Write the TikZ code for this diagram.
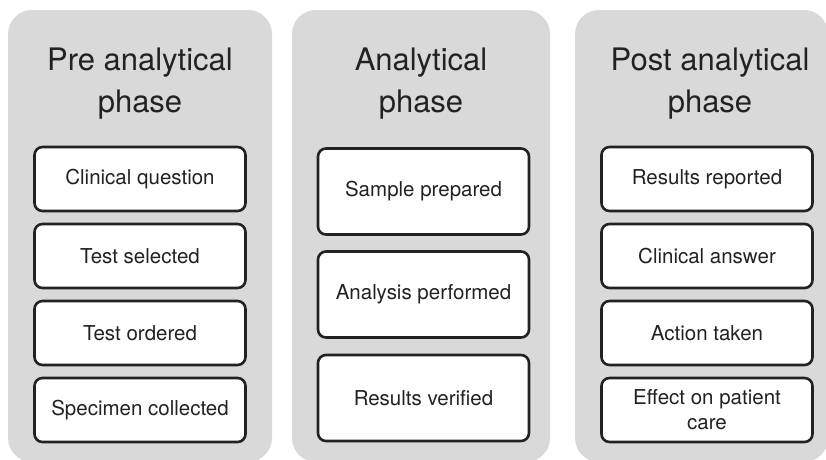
\documentclass[tikz,border=0pt]{standalone}
\usepackage{fontspec}
\setmainfont{TeX Gyre Heros}
\usetikzlibrary{positioning}
\definecolor{panelgrey}{HTML}{D9D9D9}
\definecolor{inkgrey}{HTML}{222222}
\tikzstyle{phase}=[rectangle,rounded corners=24pt,fill=panelgrey,draw=none,inner sep=0pt]
\tikzstyle{phasetitle}=[align=center,text=inkgrey,inner sep=0pt,font=\fontsize{31}{42}\selectfont]
\tikzstyle{stepbox}=[rectangle,rounded corners=8pt,fill=white,draw=inkgrey,line width=2.6pt,inner sep=2pt,align=center,text=inkgrey,minimum width=211pt,font=\fontsize{20.5}{25}\selectfont]
\tikzstyle{shortbox}=[stepbox,minimum height=64pt]
\tikzstyle{tallbox}=[stepbox,minimum height=86pt]

\begin{document}
\begin{tikzpicture}[x=1pt,y=-1pt]
\useasboundingbox (0,0) rectangle (826,459);

% grey panels
\node[phase,minimum width=264pt,minimum height=452pt] (pre) at (140,236) {};
\node[phase,minimum width=258pt,minimum height=452pt] (ana) at (421,236) {};
\node[phase,minimum width=253pt,minimum height=452pt] (post) at (701.5,236) {};

\node[phasetitle] (pretitle) at (140,84) {Pre analytical\\phase};
\node[phasetitle] (anatitle) at (421,84) {Analytical\\phase};
\node[phasetitle] (posttitle) at (710,84) {Post analytical\\phase};

% steps of each phase
\foreach \y/\name/\txt in {179/question/{Clinical question}, 256/selected/{Test selected}, 333/ordered/{Test ordered}, 410/collected/{Specimen collected}}
    \node[shortbox] (\name) at (140,\y) {\txt};

\foreach \y/\name/\txt in {191.5/prepared/{Sample prepared}, 294.5/performed/{Analysis performed}, 398/verified/{Results verified}}
    \node[tallbox] (\name) at (423.5,\y) {\txt};

\foreach \y/\name/\txt in {179/reported/{Results reported}, 256/answer/{Clinical answer}, 333/action/{Action taken}, 410/effect/{Effect on patient\\care}}
    \node[shortbox] (\name) at (707,\y) {\txt};

\end{tikzpicture}
\end{document}
